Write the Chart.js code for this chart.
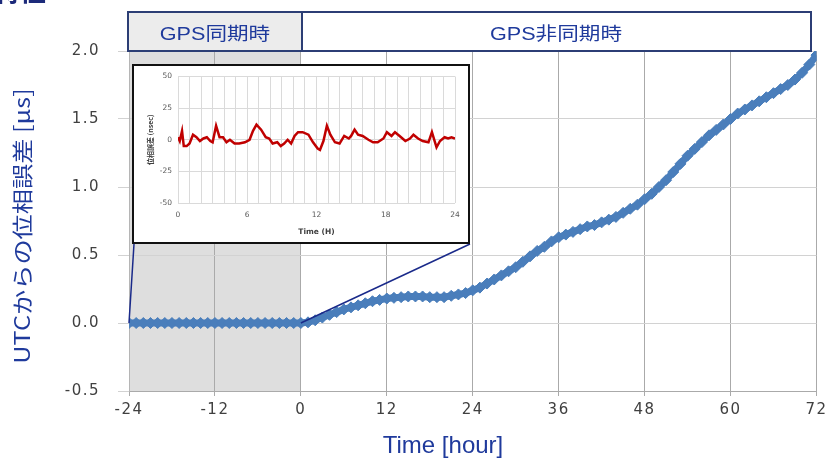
<!DOCTYPE html>
<html>
<head>
<meta charset="utf-8">
<script src="https://cdn.jsdelivr.net/npm/chart.js@4"></script>
<style>
  body { margin: 0; background: #fff; }
  #wrap { position: relative; width: 831px; height: 459px; overflow: hidden; }
  #main { position: absolute; left: 0; top: 0; }
  #cut { position: absolute; left: -6px; top: -23px; font: bold 26px "Noto Sans CJK JP", sans-serif; line-height: 26px; color: #1c2a7a; white-space: nowrap; }
  .hdr { position: absolute; top: 11px; height: 41px; box-sizing: border-box; border: 2px solid #2c3e75;
         color: #1f3a9c; font-family: "Liberation Sans", "Noto Sans CJK JP", sans-serif; font-size: 18px;
         display: flex; align-items: center; justify-content: center; }
  .hdr span { display: inline-block; transform: scaleX(1.2); }
  #h1 { left: 127px; width: 176px; background: #ececec; }
  #h2 { left: 301px; width: 511px; background: #fff; }
  #inset { position: absolute; left: 132px; top: 64px; width: 338px; height: 180px; box-sizing: border-box; border: 2px solid #111; background: #fff; }
  #insetChart { display: block; }
</style>
</head>
<body>
<div id="wrap">
  <canvas id="main" width="831" height="459"></canvas>
  <div id="cut">特性</div>
  <div class="hdr" id="h1"><span>GPS同期時</span></div>
  <div class="hdr" id="h2"><span>GPS非同期時</span></div>
  <div id="inset"><canvas id="insetChart" width="334" height="176"></canvas></div>
</div>
<script>
// main chart: phase error from UTC [us] vs time [hour]
var hours = [-24, -23, -22, -21, -20, -19, -18, -17, -16, -15, -14, -13, -12, -11, -10, -9, -8, -7, -6, -5, -4, -3, -2, -1,
  0, 1, 2, 3, 4, 5, 6, 7, 8, 9, 10, 11, 12, 13, 14, 15, 16, 17, 18, 19, 20, 21, 22, 23, 24,
  25, 26, 27, 28, 29, 30, 31, 32, 33, 34, 35, 36, 37, 38, 39, 40, 41, 42, 43, 44, 45, 46, 47, 48,
  49, 50, 51, 52, 53, 54, 55, 56, 57, 58, 59, 60, 61, 62, 63, 64, 65, 66, 67, 68, 69, 70, 71, 72];
var phaseUs = [0, 0, 0, 0, 0, 0, 0, 0, 0, 0, 0, 0, 0, 0, 0, 0, 0, 0, 0, 0, 0, 0, 0, 0,
  0, 0.005, 0.02, 0.04, 0.06, 0.08, 0.10, 0.115, 0.13, 0.145, 0.16, 0.17, 0.18, 0.185, 0.19, 0.195, 0.195, 0.195, 0.19, 0.19, 0.19, 0.20, 0.21, 0.22, 0.24,
  0.26, 0.29, 0.32, 0.35, 0.38, 0.41, 0.45, 0.49, 0.53, 0.56, 0.60, 0.63, 0.65, 0.67, 0.69, 0.71, 0.72, 0.74, 0.76, 0.78, 0.81, 0.84, 0.87, 0.91,
  0.95, 1.00, 1.05, 1.11, 1.17, 1.23, 1.28, 1.33, 1.38, 1.42, 1.46, 1.50, 1.54, 1.57, 1.60, 1.63, 1.66, 1.69, 1.72, 1.75, 1.79, 1.84, 1.90, 1.97];
var syncRange = [-24, 0];
var xTickStep = 12;
var yTickStep = 0.5;

// inset: phase error while GPS locked [nsec] vs time [H]
var insetHours = [0, 0.15, 0.35, 0.5, 0.75, 1.0, 1.3, 1.6, 1.9, 2.2, 2.5, 2.8, 3.0, 3.3, 3.6, 3.9, 4.2, 4.5, 4.9, 5.3,
  5.8, 6.2, 6.5, 6.8, 7.2, 7.6, 7.9, 8.2, 8.6, 8.9, 9.2, 9.5, 9.8, 10.1, 10.4, 10.8, 11.3, 11.7, 12.1, 12.3,
  12.6, 12.9, 13.2, 13.6, 14.0, 14.4, 14.8, 15.0, 15.3, 15.6, 16.0, 16.5, 16.9, 17.3, 17.8, 18.1, 18.5, 18.8, 19.2, 19.7,
  20.1, 20.4, 20.8, 21.2, 21.7, 22.0, 22.4, 22.7, 23.1, 23.4, 23.7, 24.0];
var insetNsec = [2, -1, 7, -5, -5, -3, 4, 2, -1, 1, 2, -1, -2, 11, 2, 2, -2, 0, -3, -3,
  -2, 0, 7, 12, 8, 2, 1, -3, -2, -5, -3, 0, -3, 3, 6, 6, 4, -2, -7, -8,
  -1, 11, 4, -2, -3, 3, 1, 3, 8, 4, 3, 0, -2, -2, 1, 6, 3, 6, 3, -1,
  1, 4, 1, -1, -2, 6, -6, -1, 2, 1, 2, 1];

var navy = '#1f3a9c';

var decor = {
    id: 'decor',
    beforeDraw: function (chart) {
        var ctx = chart.ctx, a = chart.chartArea, x = chart.scales.x;
        var l = x.getPixelForValue(syncRange[0]), r = x.getPixelForValue(syncRange[1]);
        ctx.save();
        ctx.fillStyle = '#dedede';
        ctx.fillRect(l, a.top, r - l, a.bottom - a.top);
        ctx.restore();
        ctx.letterSpacing = '1.5px';   // wide tick labels
    },
    beforeDatasetsDraw: function (chart) {
        chart.ctx.letterSpacing = '0px';
    },
    afterDatasetsDraw: function (chart) {
        // lines from the inset to the synced period
        var ctx = chart.ctx, x = chart.scales.x, y = chart.scales.y;
        var box = document.getElementById('inset');
        var bl = [box.offsetLeft + 2, box.offsetTop + box.offsetHeight];
        var br = [box.offsetLeft + box.offsetWidth, box.offsetTop + box.offsetHeight];
        ctx.save();
        ctx.strokeStyle = '#1a2a8a';
        ctx.lineWidth = 1.5;
        ctx.beginPath();
        ctx.moveTo(bl[0], bl[1]);
        ctx.lineTo(x.getPixelForValue(syncRange[0]), y.getPixelForValue(0));
        ctx.moveTo(br[0], br[1]);
        ctx.lineTo(x.getPixelForValue(syncRange[1]), y.getPixelForValue(0));
        ctx.stroke();
        ctx.restore();
    },
    afterDraw: function (chart) {
        var ctx = chart.ctx;
        ctx.save();
        ctx.fillStyle = navy;
        ctx.textAlign = 'center';
        ctx.textBaseline = 'middle';
        ctx.font = '24px "Liberation Sans", sans-serif';
        ctx.fillText('Time [hour]', 443, 446);
        ctx.translate(22, 226);
        ctx.rotate(-Math.PI / 2);
        ctx.scale(1.2, 1);
        ctx.font = '21px "Noto Sans CJK JP", sans-serif';
        ctx.fillText('UTCからの位相誤差 [μs]', 0, 0);
        ctx.restore();
    }
};

new Chart(document.getElementById('main'), {
    type: 'line',
    data: {
        datasets: [{
            data: hours.map(function (h, i) { return { x: h, y: phaseUs[i] }; }),
            borderColor: '#4a7ebb',
            backgroundColor: '#4a7ebb',
            borderWidth: 7,
            pointStyle: 'rectRot',
            pointRadius: 5.5,
            pointBorderWidth: 1,
            tension: 0
        }]
    },
    options: {
        responsive: false,
        animation: false,
        layout: { padding: { top: 51, right: 11, left: 0, bottom: 0 } },
        plugins: { legend: { display: false }, tooltip: { enabled: false } },
        scales: {
            x: {
                type: 'linear',
                min: -24,
                max: 72,
                ticks: { stepSize: xTickStep, color: '#404040', padding: 5, maxRotation: 0,
                         font: { family: 'DejaVu Sans', size: 15 } },
                grid: { color: '#aaaaaa', tickLength: 5 },
                border: { color: '#aaaaaa' },
                afterFit: function (s) { s.height = 68; }
            },
            y: {
                min: -0.5,
                max: 2.0,
                ticks: { stepSize: yTickStep, color: '#404040', padding: 18,
                         font: { family: 'DejaVu Sans', size: 15 },
                         callback: function (v) { return v.toFixed(1); } },
                grid: { color: '#d2d2d2', tickLength: 11 },
                border: { color: '#b5b5b5' },
                afterFit: function (s) { s.width = 129; }
            }
        }
    },
    plugins: [decor]
});

new Chart(document.getElementById('insetChart'), {
    type: 'line',
    data: {
        datasets: [{
            data: insetHours.map(function (h, i) { return { x: h, y: insetNsec[i] }; }),
            borderColor: '#c00000',
            borderWidth: 2.5,
            pointRadius: 0,
            tension: 0
        }]
    },
    options: {
        responsive: false,
        animation: false,
        layout: { padding: { top: 8, right: 13, left: 0, bottom: 0 } },
        plugins: { legend: { display: false }, tooltip: { enabled: false } },
        scales: {
            x: {
                type: 'linear',
                min: 0,
                max: 24,
                ticks: { stepSize: 1, autoSkip: false, maxRotation: 0, color: '#595959', padding: 8,
                         font: { family: 'DejaVu Sans', size: 7.5 },
                         callback: function (v) { return v % 6 === 0 ? v : ''; } },
                grid: { color: '#dadada', drawTicks: false },
                border: { display: false },
                title: { display: true, text: 'Time (H)', color: '#404040', padding: { top: 2, bottom: 5 },
                         font: { family: 'DejaVu Sans', size: 7.5, weight: 'bold' } },
                afterFit: function (s) { s.height = 39; }
            },
            y: {
                min: -50,
                max: 50,
                ticks: { stepSize: 25, color: '#595959', padding: 6,
                         font: { family: 'DejaVu Sans', size: 7.5 } },
                grid: { color: '#dadada', drawTicks: false },
                border: { display: false },
                title: { display: true, text: '位相誤差 (nsec)', color: '#404040', padding: { top: 12, bottom: 0 },
                         font: { family: 'Noto Sans CJK JP', size: 7, weight: 'bold' } },
                afterFit: function (s) { s.width = 44; }
            }
        }
    }
});
</script>
</body>
</html>
